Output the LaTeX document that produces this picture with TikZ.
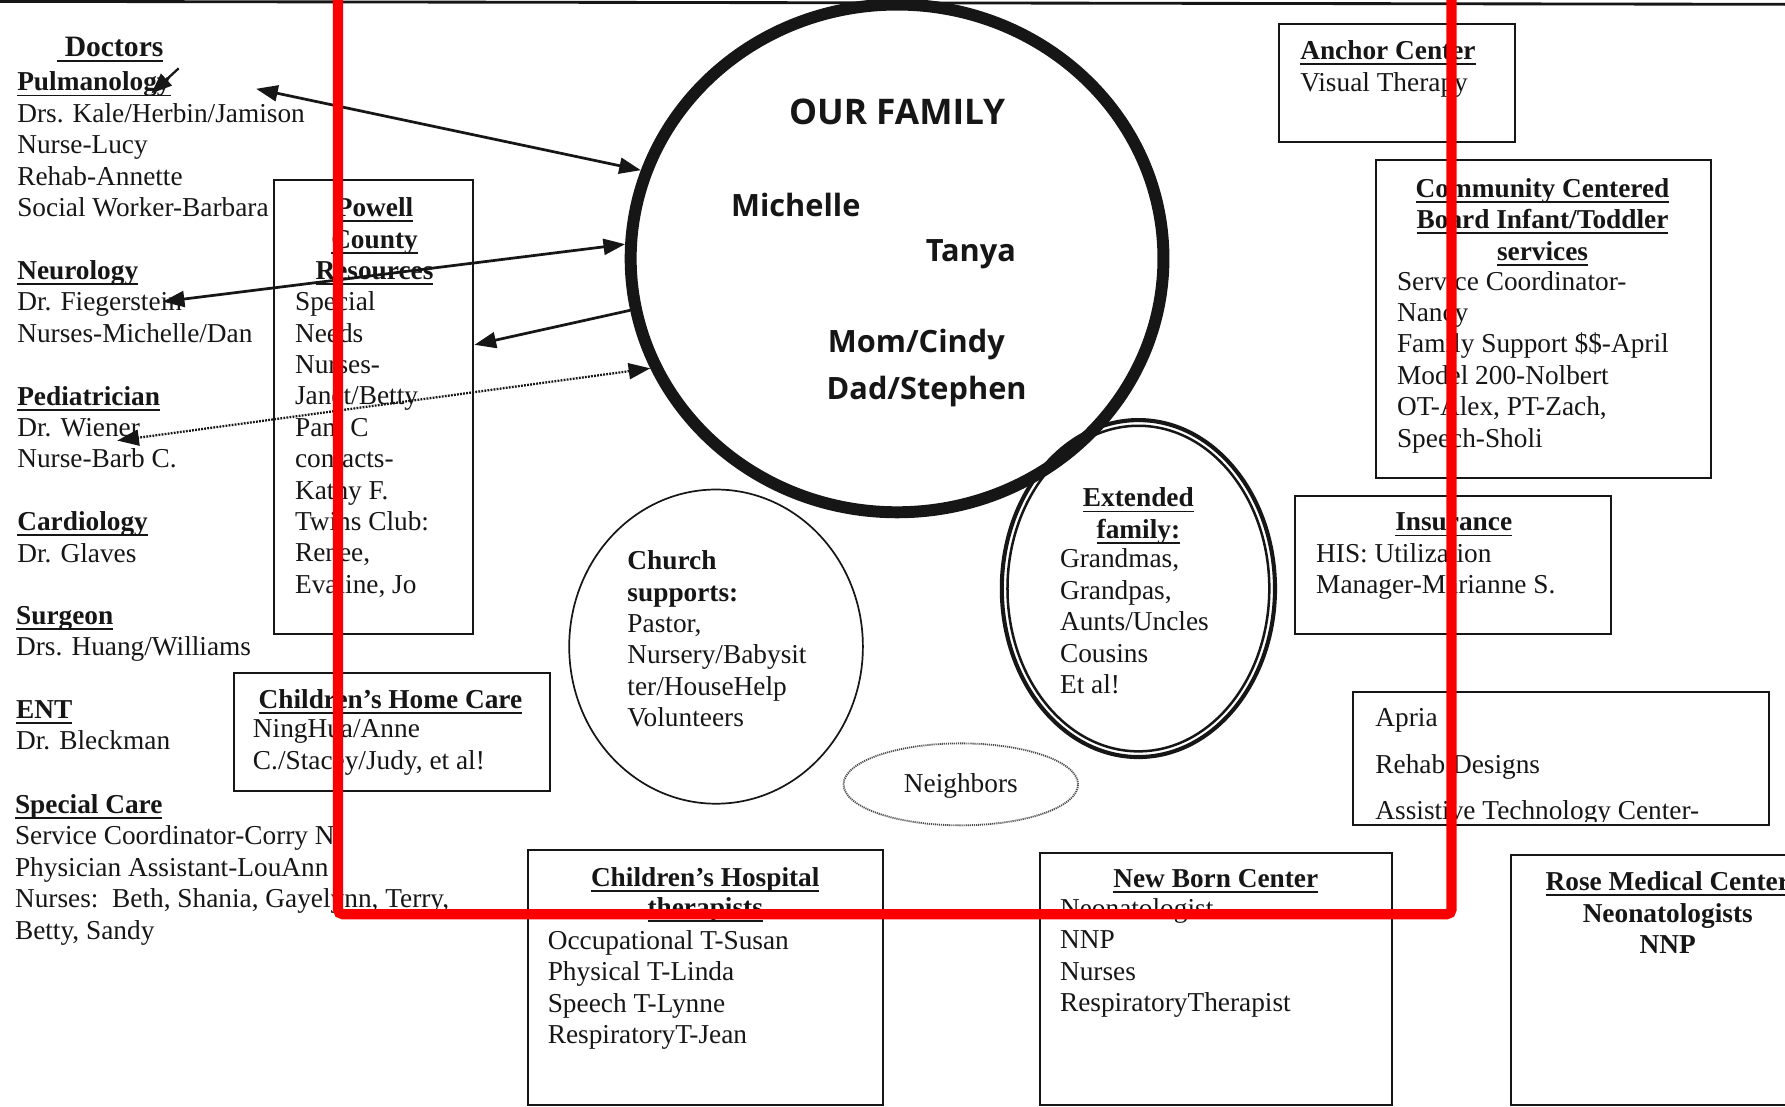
\documentclass[tikz,border=0pt]{standalone}
\usepackage{fontspec}
\setmainfont{Liberation Serif}
\newfontfamily\famfont{Open Sans}
\usetikzlibrary{arrows.meta,shapes.geometric}
\definecolor{ink}{RGB}{22,22,22}
\definecolor{redline}{RGB}{250,0,0}
\newcommand{\myul}[1]{\setbox0\hbox{#1}\leavevmode\rlap{\rule[-4.8pt]{\wd0}{1.6pt}}\box0}
\newcommand{\hd}[1]{\textbf{\myul{#1}}}
\begin{document}
\begin{tikzpicture}[x=1pt,y=-1pt,
  txt/.style={font=\fontsize{24}{27.6}\selectfont, text=ink, inner sep=0pt, align=left, anchor=north west},
  ctxt/.style={txt, align=center, anchor=north},
  famtxt/.style={font=\famfont\bfseries\fontsize{27}{32}\selectfont, text=ink, inner sep=0pt},
  boxnode/.style={draw=ink, line width=1.8pt, inner sep=0pt, anchor=north west},
  oval/.style={ellipse, draw=ink, inner sep=0pt},
  tipA/.tip={Triangle[length=19pt,width=14pt]},
  arrtwo/.style={line width=2.4pt, draw=ink, tipA-tipA},
  arrone/.style={line width=2.4pt, draw=ink, -tipA},
  dotline/.style={line width=2pt, dash pattern=on 1.6pt off 1.1pt}
]
\useasboundingbox (0,0) rectangle (1568,972);
\fill[white] (0,0) rectangle (1568,972);

% top page edge
\draw[line width=2.5pt, ink] (0,1.2) -- (1568,3.8);

% ---------------- Doctors column ----------------
\node[ctxt, font=\fontsize{26}{30}\selectfont\bfseries] (doctors) at (97,32) {\myul{\ Doctors}};
\node[txt] (pulm) at (15,63) {\hd{Pulmanology}\\Drs. Kale/Herbin/Jamison\\Nurse-Lucy\\Rehab-Annette\\Social Worker-Barbara};
\node[txt] (neuro) at (15,228.6) {\hd{Neurology}\\Dr. Fiegerstein\\Nurses-Michelle/Dan};
\node[txt] (pedi) at (15,339) {\hd{Pediatrician}\\Dr. Wiener\\Nurse-Barb C.};
\node[txt] (cardio) at (15,449.4) {\hd{Cardiology}\\Dr. Glaves};
\node[txt] (surg) at (14,532.2) {\hd{Surgeon}\\Drs. Huang/Williams};
\node[txt] (ent) at (14,615) {\hd{ENT}\\Dr. Bleckman};
\node[txt] (spec) at (13,697.8) {\hd{Special Care}\\Service Coordinator-Corry N\\Physician Assistant-LouAnn\\Nurses:\ \ Beth, Shania, Gayelynn, Terry,\\Betty, Sandy};

% ---------------- Powell County ----------------
\node[boxnode, minimum width=175pt, minimum height=399pt] (powell) at (240,157) {};
\node[ctxt, font=\fontsize{24}{27.6}\selectfont\bfseries] (powellt) at (329,173.5) {\myul{Powell}\\\myul{County}\\\myul{Resources}};
\node[txt] (powelll) at (259,256) {Special\\Needs\\Nurses-\\Janet/Betty\\Pam C\\contacts-\\Kathy F.\\Twins Club:\\Renee,\\Evaline, Jo};

% ---------------- Children's Home Care ----------------
\node[boxnode, minimum width=277pt, minimum height=104pt] (homecare) at (205,590) {};
\node[ctxt] (homecaret) at (343,605.5) {\hd{Children's Home Care}};
\node[txt] (homecarel) at (222,632) {NingHua/Anne\\C./Stacey/Judy, et al!};

% ---------------- Our family ----------------
\node[oval, line width=10.5pt, minimum width=468pt, minimum height=446pt] (fam) at (788,227) {};
\node[famtxt, anchor=base, font=\famfont\bfseries\fontsize{31}{36}\selectfont] (ourfam) at (788,109) {OUR FAMILY};
\node[famtxt, anchor=base west] (michelle) at (642,190) {Michelle};
\node[famtxt, anchor=base west] (tanya) at (813,230) {Tanya};
\node[famtxt, anchor=base west] (mom) at (727,310) {Mom/Cindy};
\node[famtxt, anchor=base west] (dad) at (726,351) {Dad/Stephen};

% ---------------- Church ----------------
\node[oval, line width=1.5pt, minimum width=258pt, minimum height=276pt] (church) at (629,568) {};
\node[txt] (churcht) at (551,483.5) {\textbf{Church}\\\textbf{supports:}\\Pastor,\\Nursery/Babysit\\ter/HouseHelp\\Volunteers};

% ---------------- Extended family ----------------
\node[oval, line width=2.2pt, minimum width=230pt, minimum height=286pt] (extin) at (1000,517) {};
\node[oval, line width=3.6pt, minimum width=240pt, minimum height=296pt] (ext) at (1000,517) {};
\node[ctxt, font=\fontsize{24}{27.6}\selectfont\bfseries] (extt) at (1000,428.5) {\myul{Extended}\\\myul{family:}};
\node[txt] (extl) at (931,482) {Grandmas,\\Grandpas,\\Aunts/Uncles\\Cousins\\Et al!};

% ---------------- Neighbors ----------------
\node[oval, draw=black!70, line width=1.6pt, dash pattern=on 1pt off 0.8pt, minimum width=206pt, minimum height=72pt] (neigh) at (844,689) {};
\node[txt, anchor=center] (neight) at (844,690) {Neighbors};

% ---------------- Anchor Center ----------------
\node[boxnode, minimum width=207pt, minimum height=104pt] (anchor) at (1123,20) {};
\node[txt] (anchort) at (1142,35.5) {\hd{Anchor Center}\\Visual Therapy};

% ---------------- Community Centered Board ----------------
\node[boxnode, minimum width=294pt, minimum height=279pt] (ccb) at (1208,140) {};
\node[ctxt, font=\fontsize{24}{27.6}\selectfont\bfseries] (ccbt) at (1355,156.5) {\myul{Community Centered}\\\myul{Board Infant/Toddler}\\\myul{services}};
\node[txt] (ccbl) at (1227,238) {Service Coordinator-\\Nancy\\Family Support \$\$-April\\Model 200-Nolbert\\OT-Alex, PT-Zach,\\Speech-Sholi};

% ---------------- Insurance ----------------
\node[boxnode, minimum width=277pt, minimum height=121pt] (ins) at (1137,435) {};
\node[ctxt] (inst) at (1277,450.5) {\hd{Insurance}};
\node[txt] (insl) at (1156,477) {HIS: Utilization\\Manager-Marianne S.};

% ---------------- Apria ----------------
\node[boxnode, minimum width=365pt, minimum height=117pt] (apria) at (1188,607) {};
\begin{scope}
\clip (1188,607) rectangle (1553,722);
\node[txt, font=\fontsize{24}{41}\selectfont] (aprial) at (1208,622) {Apria\\Rehab Designs\\Assistive Technology Center-};
\end{scope}

% ---------------- Children's Hospital ----------------
\node[boxnode, minimum width=312pt, minimum height=224pt] (hosp) at (463,746) {};
\node[ctxt, font=\fontsize{24}{26.5}\selectfont\bfseries] (hospt) at (619.5,761.5) {\myul{Children's Hospital}\\\myul{therapists}};
\node[txt] (hospl) at (481,817) {Occupational T-Susan\\Physical T-Linda\\Speech T-Lynne\\RespiratoryT-Jean};

% ---------------- New Born Center ----------------
\node[boxnode, minimum width=309pt, minimum height=222pt] (newborn) at (913,748) {};
\node[ctxt] (newbornt) at (1068,763.5) {\hd{New Born Center}};
\node[txt] (newbornl) at (931,789) {Neonatologist\\NNP\\Nurses\\RespiratoryTherapist};

% ---------------- Rose Medical Center ----------------
\node[boxnode, minimum width=280pt, minimum height=220pt] (rose) at (1326,750) {};
\node[ctxt, font=\fontsize{24}{27.6}\selectfont\bfseries] (roset) at (1465,765.5) {\myul{Rose Medical Center}\\Neonatologists\\NNP};

% ---------------- connectors ----------------
\coordinate (pulmtip) at (225,78);
\coordinate (fiegtip) at (143,265);
\coordinate (wienertip) at (103,387);
\coordinate (marktail) at (157,60);
\coordinate (markhead) at (133,82);
\draw[arrtwo] (fam.161.4) -- (pulmtip);
\draw[arrtwo] (fam.177.8) -- (fiegtip);
\draw[arrone] (fam.191.6) -- ([yshift=54.5pt]powell.east);
\draw[arrtwo, dotline] (fam.204.6) -- (wienertip);
\draw[line width=2pt, draw=ink, -{Triangle[length=18pt,width=14pt]}] (marktail) -- (markhead);

% ---------------- red frame ----------------
\draw[redline, line width=9pt, rounded corners=4pt] (297,-30) -- (297,803) -- (1275,803) -- (1275,-30);
\end{tikzpicture}
\end{document}
